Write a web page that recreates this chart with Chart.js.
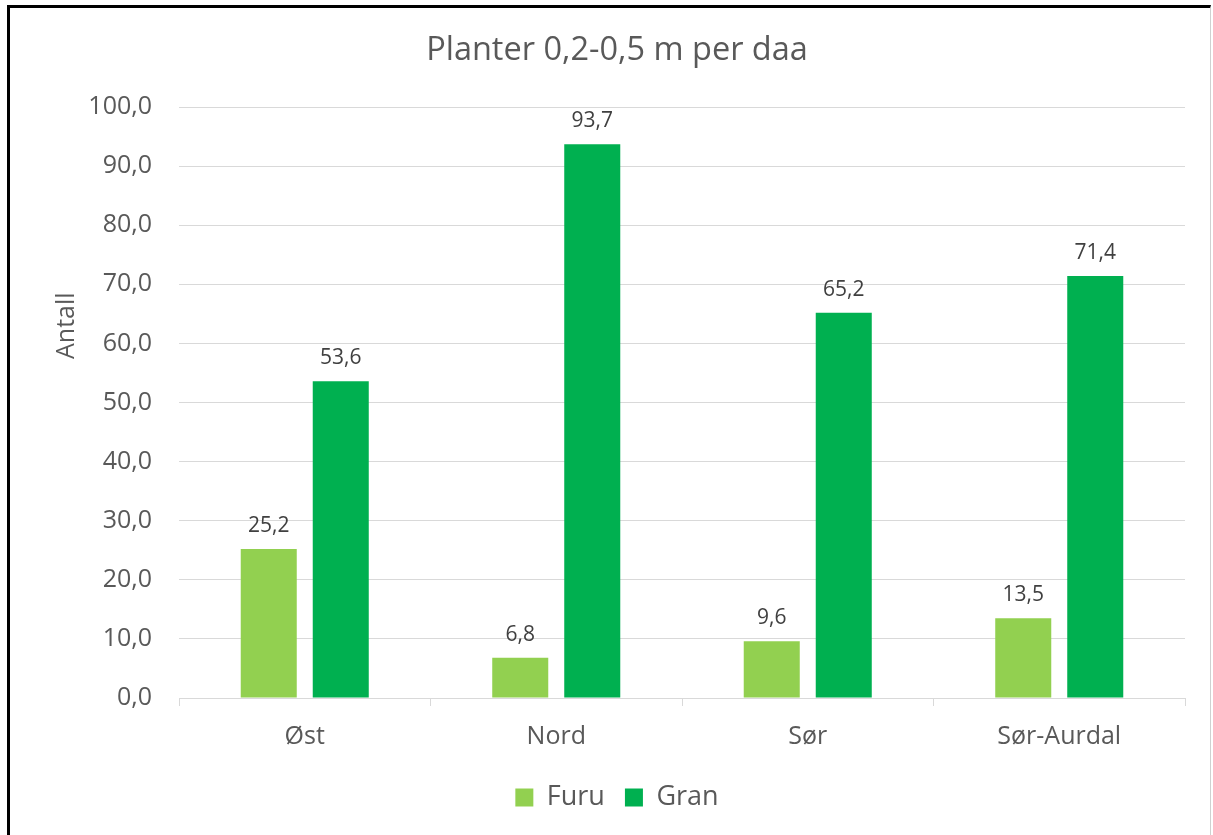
<!DOCTYPE html>
<html>
<head>
<meta charset="utf-8">
<script src="https://cdn.jsdelivr.net/npm/chart.js@4/dist/chart.umd.min.js"></script>
<style>
  html, body { margin: 0; padding: 0; background: #fff; }
  #wrap { position: relative; width: 1213px; height: 835px; }
  #c { position: absolute; left: 0; top: 0; }
  #frame { position: absolute; left: 7px; top: 5px; width: 1204px; height: 840px;
           border-left: 3px solid #000; border-top: 3px solid #000; border-right: 1px solid #d0d0d0;
           pointer-events: none; box-sizing: border-box; }
</style>
</head>
<body>
<div id="wrap">
  <canvas id="c" width="1213" height="835"></canvas>
  <div id="frame"></div>
</div>
<script>
const categories = ['Øst', 'Nord', 'Sør', 'Sør-Aurdal'];
const furu = [25.2, 6.8, 9.6, 13.5];
const gran = [53.6, 93.7, 65.2, 71.4];
const seriesNames = ['Furu', 'Gran'];
const chartTitle = 'Planter 0,2-0,5 m per daa';
const yTitle = 'Antall';

const FONT = "'Open Sans', 'Noto Sans', sans-serif";
const fmt = v => Number(v).toFixed(1).replace('.', ',');

const valueLabels = {
  id: 'valueLabels',
  afterDatasetsDraw(chart) {
    const ctx = chart.ctx;
    ctx.save();
    ctx.font = "21px " + FONT;
    ctx.fillStyle = '#404040';
    ctx.textAlign = 'center';
    ctx.textBaseline = 'alphabetic';
    chart.data.datasets.forEach((ds, i) => {
      chart.getDatasetMeta(i).data.forEach((bar, j) => {
        ctx.fillText(fmt(ds.data[j]), bar.x, bar.y - 17);
      });
    });
    ctx.restore();
  }
};

const yAxisTitle = {
  id: 'yAxisTitle',
  afterDraw(chart) {
    const ctx = chart.ctx;
    ctx.save();
    ctx.font = "25px " + FONT;
    ctx.fillStyle = '#595959';
    ctx.textAlign = 'center';
    ctx.textBaseline = 'middle';
    const a = chart.chartArea;
    ctx.translate(67, a.top + (a.bottom - a.top) * 0.37);
    ctx.rotate(-Math.PI / 2);
    ctx.fillText(yTitle, 0, 0);
    ctx.restore();
  }
};

new Chart(document.getElementById('c'), {
  type: 'bar',
  data: {
    labels: categories,
    datasets: [
      { label: seriesNames[0], data: furu, backgroundColor: '#92D050', barPercentage: 0.778, categoryPercentage: 0.5726 },
      { label: seriesNames[1], data: gran, backgroundColor: '#00B050', barPercentage: 0.778, categoryPercentage: 0.5726 }
    ]
  },
  options: {
    responsive: false,
    animation: false,
    layout: { padding: { left: 49, right: 28, top: 0, bottom: 14 } },
    plugins: {
      title: {
        display: true, text: chartTitle, color: '#595959',
        font: { family: FONT, size: 32.5, weight: 'normal' },
        padding: { top: 31, bottom: 37 }
      },
      legend: {
        position: 'bottom',
        labels: {
          color: '#595959', font: { family: FONT, size: 27 },
          boxWidth: 18, boxHeight: 18, padding: 20
        }
      },
      tooltip: { enabled: false }
    },
    scales: {
      x: {
        offset: true,
        afterFit(scale) { scale.height -= 4; },
        grid: { offset: true, drawOnChartArea: false, drawTicks: true, tickLength: 8, color: '#d9d9d9' },
        border: { color: '#d9d9d9' },
        ticks: { color: '#595959', font: { family: FONT, size: 25 }, padding: 16 }
      },
      y: {
        min: 0, max: 100,
        afterFit(scale) { scale.width = 130; },
        grid: { color: '#d9d9d9', drawTicks: false },
        border: { display: false },
        ticks: { stepSize: 10, color: '#595959', font: { family: FONT, size: 25 }, padding: 27,
                 callback: v => fmt(v) }
      }
    }
  },
  plugins: [valueLabels, yAxisTitle]
});
</script>
</body>
</html>
